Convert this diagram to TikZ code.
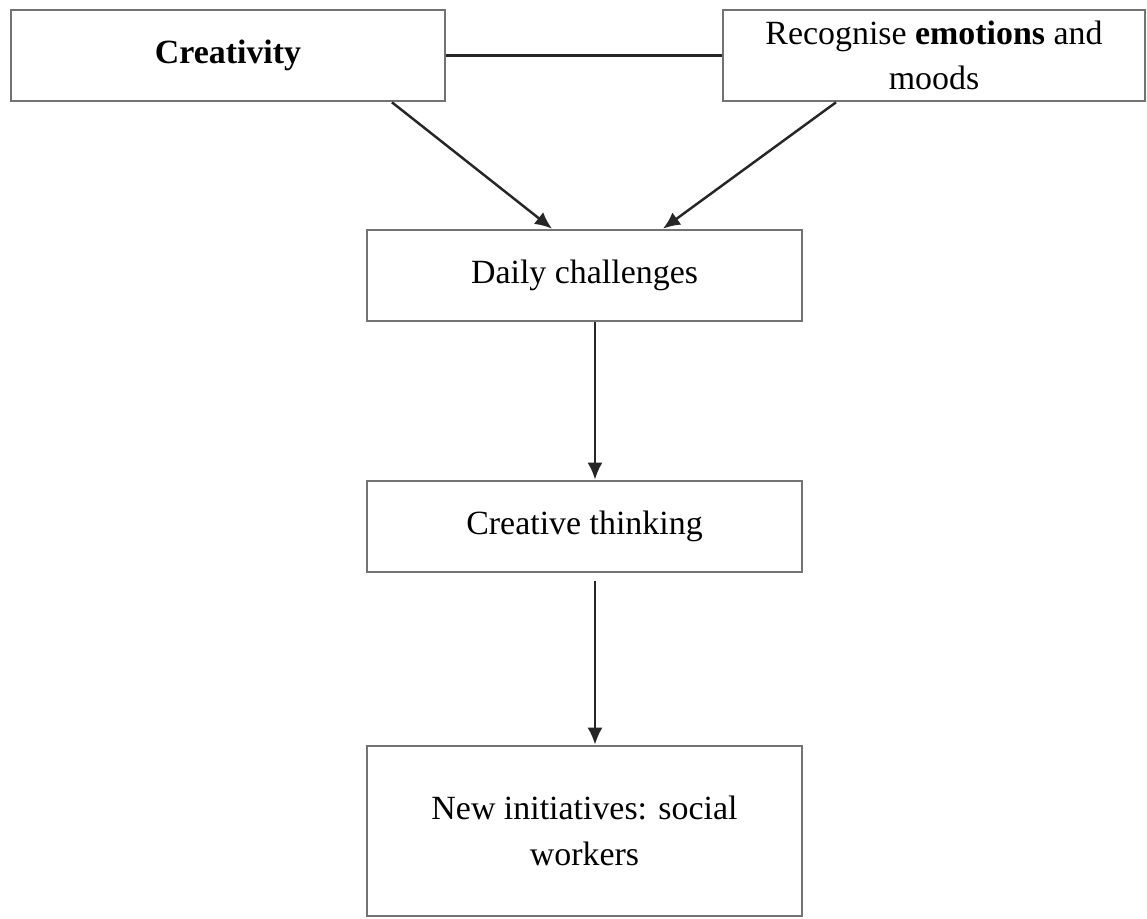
\documentclass[tikz,border=0pt]{standalone}
\usepackage{fontspec}
\setmainfont{Liberation Serif}
\usetikzlibrary{arrows.meta}

\begin{document}
\begin{tikzpicture}[x=0.02cm,y=-0.02cm,
  box/.style={draw=black!55,line width=1.5pt,fill=white,align=center,inner sep=0pt,
    font=\fontsize{19.3}{26}\selectfont},
  link/.style={draw=black!85,line width=1.4pt},
  arr/.style={link,-{Latex[length=0.34cm,width=0.3cm]}}]

\useasboundingbox (0,0) rectangle (1147,919);

% boxes
\node[box,minimum width=8.68cm,minimum height=1.82cm] (crea) at (228,55.5) {\textbf{Creativity}};
\node[box,minimum width=8.44cm,minimum height=1.82cm] (recog) at (934,55.5) {Recognise \textbf{emotions} and\\moods};
\node[box,minimum width=8.7cm,minimum height=1.82cm] (daily) at (584.5,275.5) {Daily challenges};
\node[box,minimum width=8.7cm,minimum height=1.82cm] (think) at (584.5,526.5) {Creative thinking};
\node[box,minimum width=8.7cm,minimum height=3.4cm] (init) at (584.5,831) {New initiatives: social\\workers};

% connectors
\draw[link] (crea.east)--(recog.west);
\draw[arr] ([xshift=3.28cm]crea.south)--([xshift=-0.65cm]daily.north);
\draw[arr] ([xshift=-1.96cm]recog.south)--([xshift=1.57cm]daily.north);
\draw[arr] ([xshift=0.21cm]daily.south)--([xshift=0.21cm]think.north);
\draw[arr,shorten <=0.16cm] ([xshift=0.21cm]think.south)--([xshift=0.21cm]init.north);

\end{tikzpicture}
\end{document}
